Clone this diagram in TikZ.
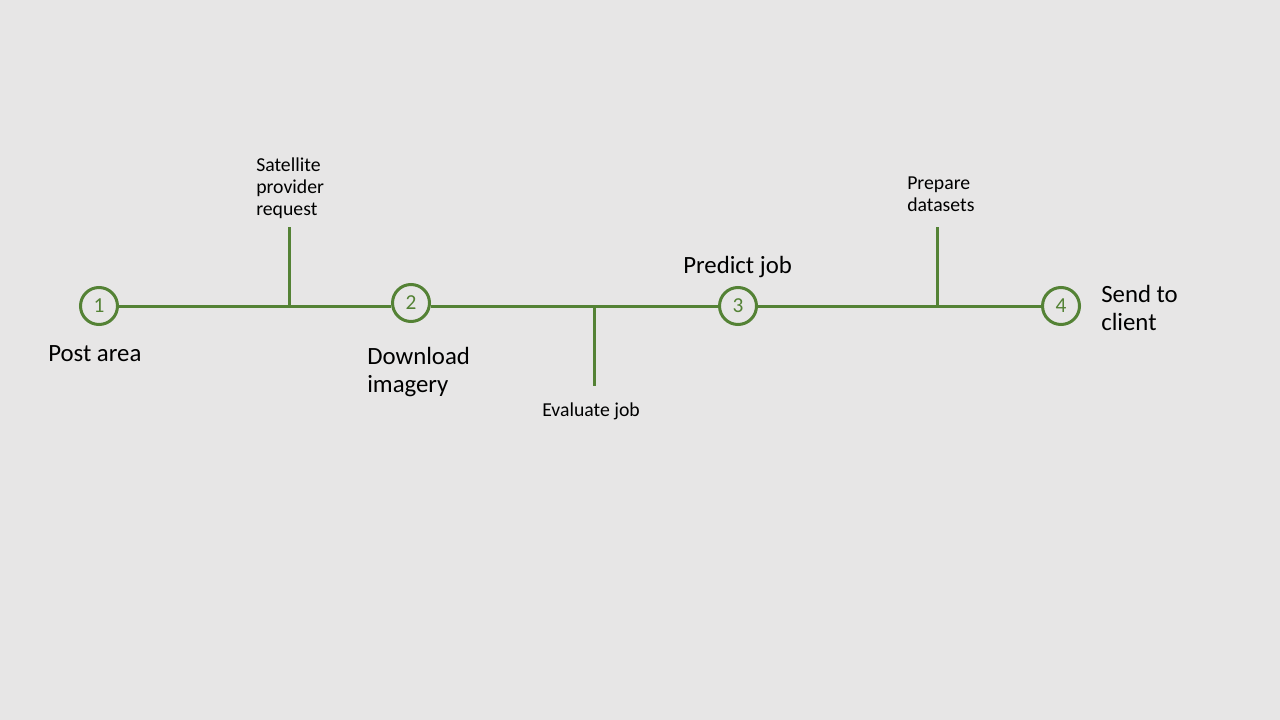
\documentclass[tikz,border=0pt]{standalone}
\usepackage{fontspec}
\setmainfont{Carlito}
\definecolor{bg}{HTML}{E7E6E6}
\definecolor{grn}{HTML}{548235}
\begin{document}
\begin{tikzpicture}[x=0.75pt,y=-0.75pt,
  stepcirc/.style={circle,draw=grn,line width=2.25pt,fill=bg,minimum size=27.75pt,inner sep=0pt,
    text=grn,font=\fontsize{16}{19}\selectfont},
  bigtxt/.style={anchor=north west,inner sep=0pt,align=left,font=\fontsize{18.6}{21}\selectfont},
  smalltxt/.style={anchor=north west,inner sep=0pt,align=left,font=\fontsize{14.8}{16.5}\selectfont},
  conn/.style={draw=grn,line width=2.25pt}]
\fill[bg] (0,0) rectangle (1280,720);
\useasboundingbox (0,0) rectangle (1280,720);
\node[stepcirc] (c1) at (99,306) {1};
\node[stepcirc] (c2) at (411,303) {2};
\node[stepcirc] (c3) at (738,306) {3};
\node[stepcirc] (c4) at (1061,306) {4};
\coordinate (b1) at (289,306);
\coordinate (b2) at (594,306);
\coordinate (b3) at (937,306);
\coordinate (t1) at (289,227);
\coordinate (t2) at (594,386);
\coordinate (t3) at (937,227);
\draw[conn] (c1) -- (b1) -- (c2.west |- b1);
\draw[conn] (c2.east |- b2) -- (b2) -- (c3) -- (b3) -- (c4);
\draw[conn] (b1) -- (t1);
\draw[conn] (b2) -- (t2);
\draw[conn] (b3) -- (t3);
\node[smalltxt] (l1) at (256,158) {Satellite\\provider\\request};
\node[smalltxt] (l2) at (542,403) {Evaluate job};
\node[smalltxt] (l3) at (907,177) {Prepare\\datasets};
\node[bigtxt] (n1) at (48,345) {Post area};
\node[bigtxt] (n2) at (367,347) {Download\\imagery};
\node[bigtxt] (n3) at (683,256) {Predict job};
\node[bigtxt] (n4) at (1101,285) {Send to\\client};
\end{tikzpicture}
\end{document}
